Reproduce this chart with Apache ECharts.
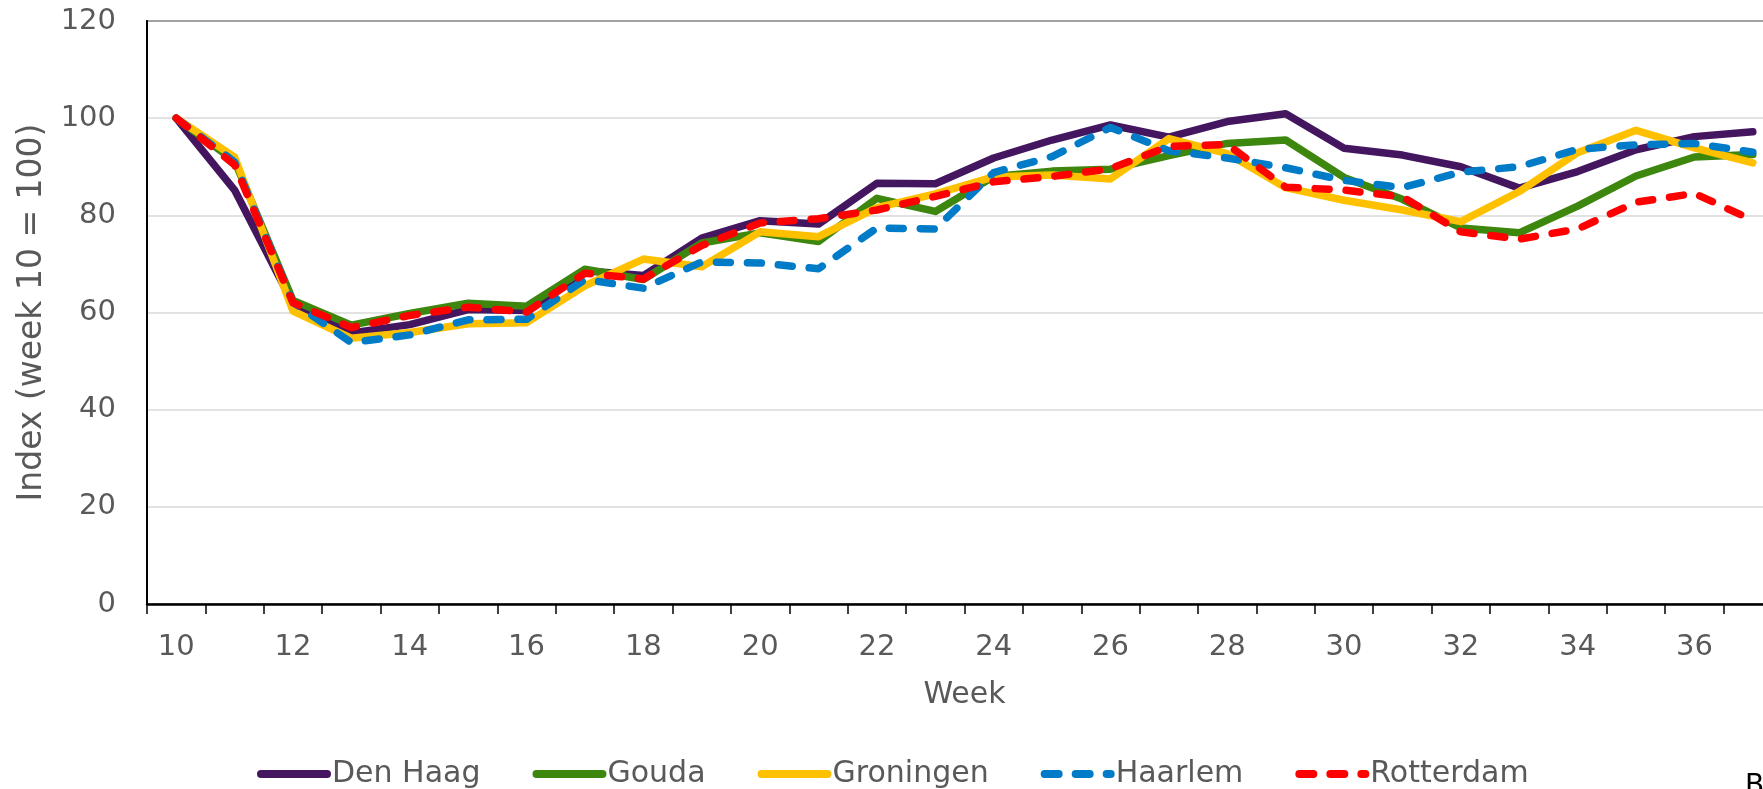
<!DOCTYPE html>
<html>
<head>
<meta charset="utf-8">
<script src="https://cdn.jsdelivr.net/npm/echarts@6/dist/echarts.min.js"></script>
<style>
  html, body { margin: 0; padding: 0; background: #fff; }
  #indexChart { width: 1763px; height: 789px; }
</style>
</head>
<body>
<div id="indexChart"></div>
<script>
// weeks on the x axis
const weeks = ['10','11','12','13','14','15','16','17','18','19','20','21','22','23','24','25','26','27','28','29','30','31','32','33','34','35','36','37'];

// index per city (week 10 = 100)
const denHaag   = [100, 85.2, 61.8, 55.8, 57.5, 60.6, 60.4, 68.6, 67.6, 75.3, 78.9, 78.2, 86.6, 86.5, 91.8, 95.5, 98.6, 96.1, 99.3, 100.9, 93.8, 92.4, 90.0, 85.6, 89.0, 93.5, 96.2, 97.2];
const gouda     = [100, 91.2, 62.5, 57.4, 59.8, 61.9, 61.3, 68.9, 66.8, 74.3, 76.4, 74.6, 83.5, 80.8, 88.0, 89.1, 89.5, 92.3, 94.8, 95.5, 87.8, 83.3, 77.4, 76.4, 81.9, 88.1, 92.0, 92.5];
const groningen = [100, 92.0, 60.3, 54.7, 55.9, 57.7, 57.9, 65.5, 71.0, 69.4, 76.6, 75.6, 81.6, 84.4, 87.9, 88.3, 87.5, 95.8, 92.7, 85.7, 83.1, 81.1, 78.7, 84.9, 92.9, 97.5, 93.9, 90.8];
const haarlem   = [100, 91.0, 62.1, 53.8, 55.4, 58.5, 58.6, 66.8, 65.0, 70.4, 70.2, 69.0, 77.4, 77.2, 88.8, 92.1, 98.1, 93.3, 91.8, 89.8, 87.2, 85.7, 88.9, 90.0, 93.6, 94.5, 94.8, 93.0];
const rotterdam = [100, 90.4, 62.0, 56.9, 59.4, 61.1, 60.1, 68.1, 66.9, 73.8, 78.4, 79.3, 81.1, 83.9, 86.9, 88.0, 89.6, 94.2, 94.6, 85.8, 85.2, 83.8, 76.6, 75.1, 77.2, 82.7, 84.5, 79.0];

const yTicks = { min: 0, max: 120, interval: 20 };

var dom = document.getElementById('indexChart');
var myChart = echarts.init(dom, null, { renderer: 'canvas' });

var font = 'DejaVu Sans, Verdana, sans-serif';
var grey = '#595959';

function city(name, values, color, dashed) {
  return {
    name: name,
    type: 'line',
    data: values,
    symbol: 'none',
    color: color,
    lineStyle: {
      width: 7.5,
      color: color,
      type: dashed ? [14, 17] : 'solid',
      cap: 'round',
      join: 'round'
    }
  };
}

var option = {
  animation: false,
  backgroundColor: '#fff',
  textStyle: { fontFamily: font },
  grid: {
    left: 147,
    top: 21,
    width: 1635,   // plot runs past the right edge, like the cropped original
    height: 583,
    outerBoundsMode: 'none',
    show: true,
    borderColor: '#000',
    borderWidth: 2
  },
  legend: {
    left: 252,
    top: 754,
    itemWidth: 66,
    itemHeight: 8,
    itemGap: 52,
    lineStyle: { width: 8 },
    textStyle: { fontSize: 30, color: grey, fontFamily: font },
    data: ['Den Haag', 'Gouda', 'Groningen', 'Haarlem', 'Rotterdam']
  },
  xAxis: {
    type: 'category',
    data: weeks,
    boundaryGap: true,
    name: 'Week',
    nameLocation: 'middle',
    nameGap: 76,
    nameTextStyle: { fontSize: 30, color: grey, fontFamily: font },
    axisLine: { lineStyle: { color: '#000', width: 2.5 } },
    axisTick: { show: true, interval: 0, length: 10, lineStyle: { color: '#000', width: 1.5 } },
    axisLabel: { interval: 1, margin: 29, fontSize: 29, color: grey, fontFamily: font },
    splitLine: { show: false }
  },
  yAxis: {
    type: 'value',
    min: yTicks.min,
    max: yTicks.max,
    interval: yTicks.interval,
    name: 'Index (week 10 = 100)',
    nameLocation: 'middle',
    nameGap: 98,
    nameTextStyle: { fontSize: 33, color: grey, fontFamily: font },
    axisLine: { show: true, lineStyle: { color: '#000', width: 2 } },
    axisTick: { show: false },
    axisLabel: { margin: 31, fontSize: 29, color: grey, fontFamily: font },
    splitLine: { lineStyle: { color: '#d9d9d9', width: 1.5 } }
  },
  graphic: [
    {
      type: 'text',
      left: 1745,
      top: 773,
      style: { text: 'Bron: CBS', fontSize: 28, fill: '#000', fontFamily: font }
    }
  ],
  series: [
    city('Den Haag', denHaag, '#43165F', false),
    city('Gouda', gouda, '#3E870F', false),
    city('Groningen', groningen, '#FFC000', false),
    city('Haarlem', haarlem, '#007BC7', true),
    city('Rotterdam', rotterdam, '#FF0000', true)
  ]
};

myChart.setOption(option);
window.addEventListener('resize', myChart.resize);
</script>
</body>
</html>
